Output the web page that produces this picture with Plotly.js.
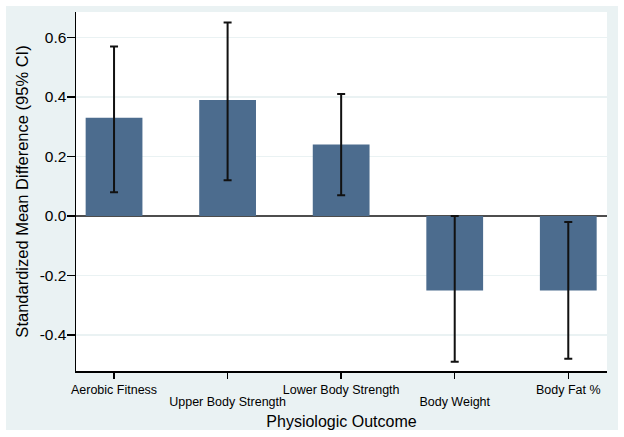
<!DOCTYPE html>
<html>
<head>
<meta charset="utf-8">
<script src="https://cdn.plot.ly/plotly-3.0.1.min.js"></script>
<style>
  html, body { margin: 0; padding: 0; background: #ffffff; }
  #chart { position: absolute; left: 6px; top: 6px; width: 612px; height: 424px; }
</style>
</head>
<body>
<div id="chart"></div>
<script>
const categories = ["Aerobic Fitness", "Upper Body Strength", "Lower Body Strength", "Body Weight", "Body Fat %"];
const smd = [0.33, 0.39, 0.24, -0.25, -0.25];
const ciLow = [0.08, 0.12, 0.07, -0.49, -0.48];
const ciHigh = [0.57, 0.65, 0.41, 0.00, -0.02];
const yTicks = [-0.4, -0.2, 0.0, 0.2, 0.4, 0.6];
const yTickText = ["-0.4", "-0.2", "0.0", "0.2", "0.4", "0.6"];

const xPos = categories.map((_, i) => i + 1);
// first row: odd-indexed categories; second (staggered) row: even-indexed
const row1Text = categories.map((c, i) => (i % 2 === 0 ? c : ""));
const row2Vals = xPos.filter((_, i) => i % 2 === 1);
const row2Text = categories.filter((_, i) => i % 2 === 1);

const trace = {
  type: "bar",
  x: xPos,
  y: smd,
  width: 0.5,
  marker: { color: "#4c6c8e", line: { width: 0 } },
  error_y: {
    type: "data",
    symmetric: false,
    array: smd.map((v, i) => ciHigh[i] - v),
    arrayminus: smd.map((v, i) => v - ciLow[i]),
    color: "#111111",
    thickness: 2,
    width: 4
  },
  hoverinfo: "none"
};

const helper = {
  type: "scatter",
  mode: "none",
  x: xPos,
  y: smd,
  xaxis: "x2",
  yaxis: "y",
  hoverinfo: "none",
  showlegend: false
};

const layout = {
  width: 612,
  height: 424,
  paper_bgcolor: "#eaf2f3",
  plot_bgcolor: "#ffffff",
  margin: { l: 70, r: 11, t: 6, b: 59 },
  showlegend: false,
  font: { family: "'Liberation Sans', Arial, sans-serif", color: "#000000" },
  xaxis: {
    range: [0.665, 5.341],
    tickmode: "array",
    tickvals: xPos,
    ticktext: row1Text,
    tickangle: 0,
    automargin: false,
    ticks: "outside",
    ticklen: 6,
    tickwidth: 1.5,
    tickcolor: "#000000",
    tickfont: { size: 12.5, color: "#000000" },
    showline: true,
    linecolor: "#000000",
    linewidth: 1.5,
    showgrid: false,
    zeroline: false,
    title: { text: "Physiologic Outcome", font: { size: 16, color: "#000000" }, standoff: 20 }
  },
  xaxis2: {
    overlaying: "x",
    matches: "x",
    anchor: "y",
    side: "bottom",
    tickmode: "array",
    tickvals: row2Vals,
    ticktext: row2Text,
    tickangle: 0,
    automargin: false,
    ticks: "outside",
    ticklen: 6,
    tickcolor: "rgba(0,0,0,0)",
    ticklabelstandoff: 13,
    tickfont: { size: 12.5, color: "#000000" },
    showline: false,
    showgrid: false,
    zeroline: false
  },
  yaxis: {
    range: [-0.521, 0.6857],
    tickmode: "array",
    tickvals: yTicks,
    ticktext: yTickText,
    automargin: false,
    ticks: "outside",
    ticklen: 8,
    tickwidth: 1.5,
    tickcolor: "#000000",
    ticklabelstandoff: -3,
    tickfont: { size: 15.5, color: "#000000" },
    showline: true,
    linecolor: "#000000",
    linewidth: 1.5,
    showgrid: true,
    gridcolor: "#eaf2f3",
    gridwidth: 1.5,
    zeroline: true,
    zerolinecolor: "#4d4d4d",
    zerolinewidth: 2,
    title: { text: "Standardized Mean Difference (95% CI)", font: { size: 16.5, color: "#000000" }, standoff: 7 }
  }
};

Plotly.newPlot("chart", [trace, helper], layout, { staticPlot: true, displayModeBar: false });
</script>
</body>
</html>
